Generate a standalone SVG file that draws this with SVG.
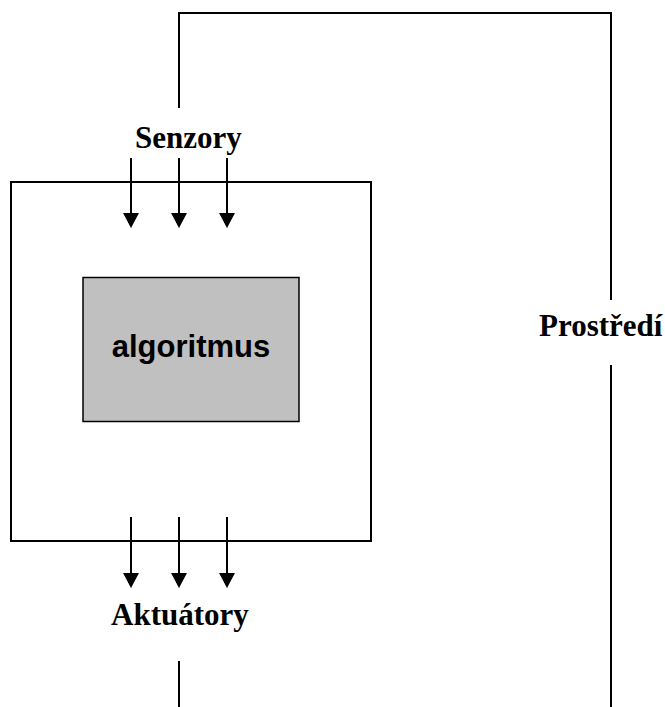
<svg xmlns="http://www.w3.org/2000/svg" width="665" height="707" viewBox="0 0 665 707">
  <style>
    .ln { stroke: #000; stroke-width: 2; fill: none; }
    .lbl { font-family: "Liberation Serif", "Times New Roman", serif; font-weight: bold; font-size: 31px; fill: #000; }
    .alg { font-family: "Liberation Sans", Arial, sans-serif; font-weight: bold; font-size: 31px; fill: #000; }
    .head { fill: #000; stroke: none; }
  </style>
  <defs>
    <!-- downward arrowhead, tip at (0,0) -->
    <path id="tip" d="M-8,-15 L8,-15 L0,0 Z"/>
  </defs>
  <rect width="665" height="707" fill="#fff"/>

  <g id="agent">
    <rect x="11" y="182" width="360" height="359" class="ln"/>
  </g>

  <g id="algoritmus">
    <rect x="83" y="277.5" width="216" height="144" fill="#c0c0c0" stroke="#000" stroke-width="1.5"/>
    <text x="191" y="357" text-anchor="middle" class="alg">algoritmus</text>
  </g>

  <g id="senzory">
    <text x="135" y="148" class="lbl">Senzory</text>
  </g>

  <g id="aktuatory">
    <text x="111" y="625" class="lbl">Aktuátory</text>
  </g>

  <g id="prostredi">
    <text x="539" y="336" class="lbl">Prostředí</text>
  </g>

  <g id="connectors">
    <!-- environment loop -->
    <polyline points="179,108 179,13 611,13 611,300" class="ln"/>
    <line x1="611" y1="365" x2="611" y2="707" class="ln"/>
    <line x1="179" y1="661" x2="179" y2="707" class="ln"/>
    <!-- sensor inputs -->
    <line x1="131" y1="158" x2="131" y2="215" class="ln"/>
    <line x1="179" y1="158" x2="179" y2="215" class="ln"/>
    <line x1="227" y1="158" x2="227" y2="215" class="ln"/>
    <use href="#tip" x="131" y="228" class="head"/>
    <use href="#tip" x="179" y="228" class="head"/>
    <use href="#tip" x="227" y="228" class="head"/>
    <!-- actuator outputs -->
    <line x1="131" y1="517" x2="131" y2="575" class="ln"/>
    <line x1="179" y1="517" x2="179" y2="575" class="ln"/>
    <line x1="227" y1="517" x2="227" y2="575" class="ln"/>
    <use href="#tip" x="131" y="588" class="head"/>
    <use href="#tip" x="179" y="588" class="head"/>
    <use href="#tip" x="227" y="588" class="head"/>
  </g>
</svg>
